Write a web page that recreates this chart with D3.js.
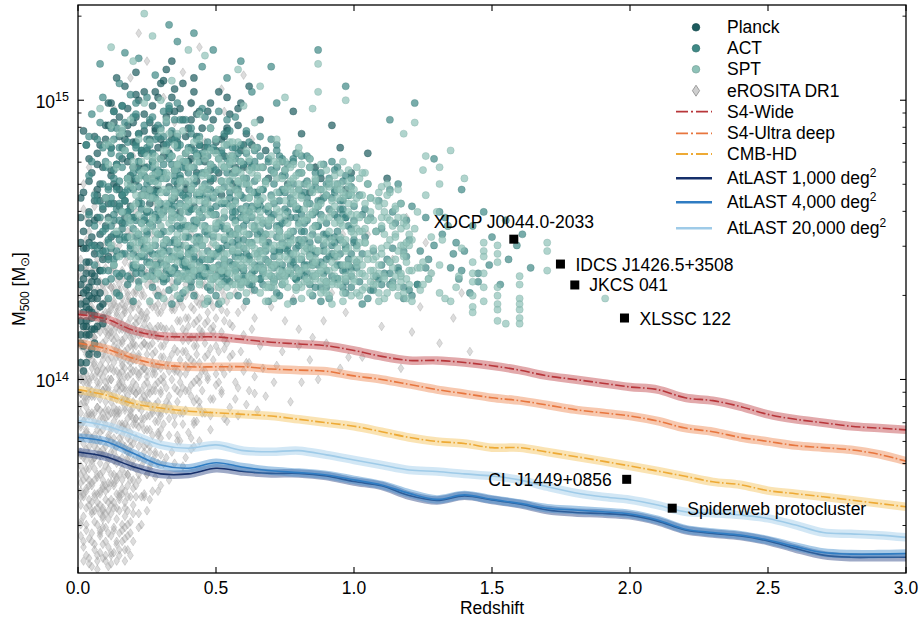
<!DOCTYPE html>
<html><head><meta charset="utf-8">
<script src="https://cdn.jsdelivr.net/npm/d3@7"></script>
<style>
html,body{margin:0;padding:0;background:#fff;}
svg{display:block;font-family:"Liberation Sans",Arial,Helvetica,sans-serif;}
</style></head><body>
<svg id="chart" width="920" height="624"></svg>
<script>
// ---------------- DATA ----------------
// Scatter catalogues: interleaved pairs [100*z, 100*(log10(M500/Msun) - 13)]
const erositaPts = [
3,37,8,52,1,66,6,41,9,88,2,73,5,104,7,59,4,121,10,47,
6,95,1,49,9,133,3,81,7,35,4,62,10,114,2,99,8,70,5,56,
2,127,7,84,4,43,9,107,1,91,6,118,3,54,10,76,5,139,8,38,
9,61,4,97,7,123,2,58,10,89,5,33,1,112,8,102,3,68,6,146,
5,79,10,131,3,92,8,45,1,137,6,64,9,50,2,85,7,110,4,153,
7,99,2,40,10,57,4,116,6,72,1,83,8,126,3,109,9,36,5,94,
4,68,9,119,6,53,1,101,3,140,7,48,2,113,10,97,5,63,8,81,
1,58,5,125,8,93,3,46,10,69,6,105,4,87,7,132,2,161,9,75,
8,112,3,71,6,88,10,42,2,92,9,144,5,117,1,74,7,65,4,34,
10,103,6,129,2,67,7,78,4,100,8,60,1,124,5,42,9,96,3,158,
6,39,1,95,9,82,5,71,3,120,10,124,7,90,2,51,4,76,8,135,
2,80,8,73,5,148,10,86,6,115,3,99,9,109,4,55,1,44,7,118,
9,64,4,128,1,106,7,54,3,87,5,88,10,62,6,80,8,99,2,170,
5,107,7,141,3,131,9,53,2,104,8,46,4,110,1,130,6,59,10,149,
7,75,10,35,4,94,2,119,8,86,1,63,5,52,9,127,3,61,6,167,
1,84,6,101,8,55,3,115,5,133,9,101,2,64,7,103,10,111,4,176,
14,41,18,66,12,94,17,35,20,112,11,79,15,57,19,128,13,103,16,48,
19,87,12,55,16,120,11,33,14,97,20,69,13,141,17,82,15,110,18,44,
11,124,17,101,13,62,20,90,15,37,12,115,18,134,14,76,16,59,19,152,
16,84,13,46,19,108,12,133,18,71,11,96,14,119,20,52,15,88,17,164,
20,126,15,99,11,68,18,39,13,85,16,139,12,74,17,115,14,54,19,96,
12,37,18,120,14,131,16,93,20,77,11,143,17,60,13,112,19,64,15,148,
17,47,14,87,20,103,13,127,11,56,16,72,19,137,12,104,15,66,18,159,
15,121,11,107,18,94,14,65,17,133,20,42,12,83,16,106,13,71,19,117,
13,95,19,78,16,42,20,136,12,63,15,84,18,107,11,89,14,145,17,124,
18,53,12,146,15,113,17,89,14,35,19,49,11,117,20,61,16,129,13,156,
11,72,16,118,20,86,14,108,18,144,13,54,15,45,17,97,12,126,19,171,
16,64,19,106,13,79,11,134,17,76,14,126,20,119,15,134,18,83,12,52,
20,96,14,72,17,108,19,58,12,88,16,80,11,45,13,131,18,128,15,77,
13,38,18,74,12,117,15,102,20,148,17,54,14,160,16,99,19,125,11,100,
17,142,11,61,19,89,14,115,16,154,13,66,18,62,12,139,15,59,20,180,
23,48,27,71,21,95,29,60,25,118,22,83,30,104,26,57,24,139,28,91,
21,62,28,126,24,76,30,88,22,109,26,97,23,147,29,115,25,66,27,134,
26,82,22,52,29,99,24,122,28,65,21,131,25,92,30,142,23,69,27,106,
30,73,25,134,21,79,27,88,23,118,29,127,22,157,26,112,28,102,24,58,
22,96,29,81,26,128,24,104,21,146,27,60,30,119,23,93,25,53,28,163,
27,117,23,78,28,85,21,112,25,101,30,62,22,135,24,86,29,144,26,69,
24,94,30,108,22,72,26,145,29,70,21,86,27,96,25,124,23,103,28,131,
29,92,26,91,24,113,28,74,22,121,30,130,25,77,21,103,27,152,23,58,
21,68,25,109,30,96,23,132,27,80,22,90,28,116,26,76,24,166,29,105,
26,119,28,98,22,64,29,136,24,71,30,79,21,122,27,126,23,86,25,176,
25,87,23,124,27,113,30,155,22,101,26,136,28,142,24,149,29,85,21,160,
33,64,38,97,42,120,31,84,36,143,44,78,40,108,34,118,39,72,45,134,
37,88,32,105,43,93,35,70,41,152,31,126,38,114,44,101,33,139,40,81,
36,96,42,76,34,89,39,130,45,88,32,72,37,121,43,112,35,103,41,98,
38,69,31,99,44,122,36,110,33,86,40,141,42,106,35,125,39,89,32,161,
43,85,37,78,34,133,41,115,45,103,31,112,38,148,36,80,40,96,33,107,
39,105,44,145,32,92,42,131,35,84,37,102,43,128,31,138,41,79,34,100,
36,127,40,119,33,94,45,117,38,84,32,118,39,117,42,92,35,144,44,92,
37,136,41,126,34,74,43,157,31,90,36,168,39,175,33,182,40,188,35,192,
48,82,55,104,61,91,47,121,52,96,63,118,50,139,58,87,46,108,57,131,
64,101,53,114,49,93,60,126,54,85,62,144,47,100,56,119,51,157,59,110,
65,89,50,112,55,135,46,88,58,97,52,125,61,106,48,148,57,93,63,132,
53,86,60,103,49,117,54,128,64,122,47,163,56,109,51,99,59,140,62,96,
50,172,55,180,58,168,46,185,61,176,48,190,53,196,63,186,57,152,52,146,
68,94,74,110,81,99,89,121,95,104,70,126,77,92,85,115,92,131,98,108,
67,104,73,137,80,118,87,100,93,143,71,99,78,129,84,107,90,113,97,124,
69,150,76,158,83,147,88,165,96,152,72,172,79,181,86,176,91,160,99,140,
103,108,110,119,117,104,124,126,131,113,107,135,114,143,121,117,128,138,136,122,
142,110,105,152,119,158,126,149,139,131,
13,197,19,208,25,214,31,201,38,210,44,219,52,204,60,209,22,224,41,199,
5,45,12,78,3,102,17,56,8,131,1,69,14,93,19,37,6,115,10,84,
2,59,16,127,9,41,13,106,4,88,18,72,7,143,11,50,15,98,20,64,
1,121,6,76,12,38,3,94,17,110,9,62,14,136,5,53,19,88,8,105,
11,71,2,134,16,46,7,97,13,120,4,57,18,101,10,140,15,79,1,48,
9,86,20,55,3,117,12,66,6,129,17,90,2,42,14,111,8,74,19,122,
4,108,11,40,16,83,1,95,7,66,13,47,5,137,18,58,10,99,15,131,
3,75,9,113,14,59,20,107,6,49,12,125,2,85,17,75,8,44,16,138,
13,88,5,70,19,112,1,132,10,60,4,124,15,39,7,103,18,86,11,116,
6,94,14,50,2,111,9,73,17,126,3,48,12,100,20,71,8,120,16,61,
10,128,1,79,13,63,5,115,19,97,7,37,15,89,4,99,11,87,18,135,
2,101,8,59,16,103,3,139,14,70,6,58,20,92,12,44,9,123,17,66,
5,87,13,133,1,55,10,109,18,48,7,82,15,118,4,36,11,128,19,81,
9,96,3,60,16,114,6,140,14,82,2,72,12,108,20,127,8,89,17,43,
4,80,10,52,18,117,1,104,13,74,7,121,15,53,5,101,11,63,19,104,
12,92,6,68,2,118,16,77,9,134,3,82,14,123,8,66,20,84,10,117,
7,90,17,96,4,135,13,56,1,88,18,66,11,104,5,62,15,108,9,47,
22,76,27,102,24,59,29,88,21,117,26,68,23,130,28,110,25,95,30,82,
24,120,21,58,28,73,23,96,27,140,22,108,30,100,26,87,25,66,29,124,
33,80,38,110,36,92,41,75,34,125,44,99,31,70,39,134,42,84,35,104,
40,122,32,89,37,95,43,109,45,127,48,93,53,111,57,99,50,122,62,106,
55,90,47,137,60,116,52,104,64,95,58,124,66,112,72,105,80,112,75,121,
3,150,8,157,13,148,18,153,6,162,11,158,16,145,21,151,1,143,24,157,
4,64,9,54,14,42,19,45,2,35,7,32,12,34,17,39,22,47,10,37,
5,126,15,126,20,99,25,103,7,112,12,82,17,118,22,127,2,94,13,140,
8,95,3,111,18,79,23,89,6,106,11,97,16,92,21,84,1,100,14,103,
9,67,4,73,19,69,24,74,15,71,10,92,20,113,5,78,25,112,12,57,
6,85,16,109,1,60,11,123,21,95,3,90,13,114,18,131,8,78,23,116,
7,56,17,51,2,77,22,66,9,104,14,64,19,141,4,95,24,98,10,73,
5,96,15,101,20,131,11,80,1,116,16,68,6,72,21,132,13,77,3,65,
8,117,18,92,12,119,23,105,2,128,17,104,7,125,22,140,10,119,14,89,
9,51,19,74,4,117,15,58,24,82,11,53,20,115,5,109,16,123,1,73,
14,88,23,112,35,97,46,120,19,76,31,131,42,85,27,104,52,95,17,125,
38,118,25,82,49,107,33,139,21,98,44,90,29,119,54,113,16,105,40,132,
26,127,47,101,36,78,13,117,30,95,51,128,22,134,43,115,34,109,18,92,
48,87,28,140,39,102,15,132,53,121,24,92,45,129,32,114,20,109,41,94,
37,128,12,100,50,98,26,116,35,87,23,123,44,106,31,101,55,108,19,138,
29,80,46,134,16,113,39,122,27,89,52,117,34,126,21,86,42,112,14,124,
33,91,48,111,25,99,37,137,18,118,43,100,30,124,53,102,22,102,40,114,
15,96,45,96,28,96,36,130,50,133,24,130,38,88,17,84,31,108,47,124,
20,128,41,107,13,90,32,97,26,74,49,119,35,116,44,127,22,116,39,96,
27,135,54,124,16,97,30,112,42,125,19,102,51,110,37,99,24,104,46,103,
34,129,14,110,28,118,43,130,21,120,48,128,33,103,25,138,40,104,18,111,
53,130,36,121,23,84,45,116,29,132,17,93,41,134,31,118,50,102,15,137,
38,126,26,95,44,118,20,137,35,111,47,109,22,125,52,132,32,128,13,128,
27,109,39,110,16,136,49,126,24,113,42,99,30,87,46,113,19,115,37,107,
34,135,21,107,55,120,28,104,43,121,12,133,36,103,25,122,48,118,18,130
];
const planckPts = [
2,103,5,118,1,127,4,109,7,135,3,121,6,145,2,131,8,152,4,125,
1,113,6,123,3,138,9,161,5,129,2,147,7,119,4,156,1,140,8,170,
3,106,6,164,2,124,5,174,9,143,4,133,7,181,1,158,3,128,6,187,
5,151,8,126,2,167,4,179,7,158,1,121,9,176,3,184,6,137,2,189,
5,122,8,148,3,116,7,166,4,142,
11,158,16,183,21,171,13,196,19,162,24,189,12,175,17,205,23,166,14,152,
20,192,10,186,15,168,22,200,18,178,25,160,12,199,16,156,21,185,14,208,
19,173,11,191,23,181,17,164,24,203,13,170,20,158,15,194,22,176,18,188,
10,165,25,182,16,198,12,183,21,210,
27,172,33,196,39,168,44,184,30,206,36,177,42,162,28,189,35,165,41,199,
31,180,38,193,26,163,43,174,34,186,29,201,40,178,37,160,32,211,45,190,
28,168,35,204,41,183,30,174,44,166,33,181,39,187,26,192,42,208,36,170,
31,161,37,197,43,195,29,183,34,214,
48,171,54,189,60,176,66,193,51,203,57,168,63,184,47,196,69,172,53,180,
59,199,65,167,50,185,56,174,62,205,68,182,46,178,55,195,61,188,67,176,
52,166,58,191,
74,178,81,188,88,172,95,183,78,196,86,176,92,191,99,174,105,181,112,172,
84,167,97,168,76,170,
3,132,8,164,15,187,27,178,41,193,6,118,19,171,34,201,52,186,11,144,
2,153,24,195,46,174,9,127,31,184,58,197,4,171,17,158,38,206,13,192,
7,109,29,168,50,182,21,202,5,138,43,187,1,165,35,175,56,170,16,179,
10,155,26,186,48,199,3,147,22,163,39,181,8,184,54,190,14,169,32,194,
6,131,45,180,18,197,1,116,28,190,60,184,12,173,37,172,4,160,24,176,
9,146,49,193,20,185,2,136,33,169,55,179,15,162,42,203,7,177,27,198,
5,124,30,179,47,168,11,199,23,182,3,119,40,190,17,186,57,176,8,139,
36,185,13,163,51,174,4,149,25,172,44,196,10,191,1,134,19,180,31,207,
6,157,53,187,14,177,39,170,2,112,21,194,9,122,46,183,28,203,16,166,
3,142,34,188,12,151,59,182,7,168,26,168,5,111,41,179,18,191,48,175,
8,131,22,188,35,196,1,149,43,171,11,163,30,186,54,201,4,130,20,176,
2,119,6,148,3,126,5,135,9,120,7,129,4,116,1,106,8,139,6,113
];
const actPts = [
6,141,11,168,15,152,9,183,18,137,4,159,13,196,20,174,7,147,16,189,
10,135,19,161,5,178,14,144,8,192,17,156,12,181,20,140,6,166,15,171,
11,150,18,185,9,139,4,173,13,157,16,198,7,186,19,148,12,163,10,176,
14,190,5,148,17,167,8,158,20,194,15,137,11,184,6,155,18,172,13,143,
9,170,16,145,12,190,19,180,7,164,14,177,4,187,17,150,10,154,20,158,
8,145,15,183,11,139,18,160,13,175,
23,138,29,161,35,149,26,184,32,172,38,143,21,195,27,155,34,180,40,166,
24,147,30,190,37,158,22,169,28,141,33,198,39,176,25,160,31,136,36,187,
22,152,27,178,34,164,40,139,26,171,31,148,37,193,23,182,29,145,35,168,
38,155,24,191,30,159,21,140,33,185,28,174,36,144,25,201,39,162,32,150,
27,137,34,189,22,178,30,142,37,171,25,153,40,183,23,163,31,196,36,135,
29,173,21,157,35,140,26,193,32,162,38,178,24,168,33,146,28,186,39,151,
31,177,25,142,37,163,22,188,34,154,27,165,40,145,30,174,23,150,36,199,
33,138,28,159,21,172,35,186,26,146,39,193,24,181,32,141,38,166,29,152,
36,175,30,137,25,176,34,161,22,144,31,187,27,194,40,155,23,173,37,148,
28,167,33,179,26,156,39,140,24,157,35,173,21,184,32,192,38,137,29,187,
44,151,57,139,42,170,50,162,59,184,47,143,53,176,41,135,56,158,48,190,
52,147,45,181,60,165,43,157,55,142,49,172,58,150,46,194,54,163,41,147,
50,137,57,174,44,166,53,154,47,185,60,140,42,143,55,189,48,160,59,134,
45,168,51,179,56,146,43,181,58,170,46,153,52,138,41,161,54,193,49,144,
60,155,47,133,55,167,44,142,50,186,57,160,42,176,53,141,48,168,59,178,
51,156,45,137,58,145,46,174,56,180,43,149,54,136,49,159,41,188,52,171,
47,165,59,161,44,187,55,152,50,145,42,155,57,183,48,139,53,163,60,147,
46,140,52,182,58,136,43,166,49,176,56,141,45,158,51,146,54,174,41,139,
57,152,47,180,53,135,60,172,44,160,
62,149,75,137,68,171,79,158,64,182,71,144,77,165,61,135,73,155,66,187,
70,141,78,178,63,162,74,149,67,134,80,168,65,152,72,184,76,146,61,170,
69,160,64,139,77,151,71,174,62,143,79,136,66,164,73,180,68,146,75,157,
80,150,63,176,70,133,65,166,78,143,72,155,61,189,76,169,67,140,74,173,
64,154,71,163,79,181,66,136,73,146,62,160,69,179,77,138,65,145,80,161,
68,152,75,175,63,134,72,141,78,163,70,186,61,157,67,168,74,139,76,151,
71,135,64,171,79,147,66,153,73,167,69,142,62,178,77,158,65,162,80,137,
84,147,97,135,90,166,82,156,99,172,87,141,93,159,81,180,95,150,88,133,
92,145,85,168,100,157,83,138,96,164,89,152,81,143,94,176,86,160,98,141,
91,170,84,134,97,148,88,174,82,150,99,137,86,145,93,168,90,139,95,161,
100,149,83,163,87,155,96,133,92,178,85,142,98,166,89,146,81,159,94,136,
88,164,91,151,84,179,97,158,83,147,90,133,86,171,99,154,93,144,82,167,
104,151,116,139,109,164,102,135,119,157,107,146,113,168,101,142,118,133,110,154,
105,170,114,147,103,159,117,163,108,137,120,150,106,132,112,143,115,156,102,166,
111,138,119,144,104,161,108,153,116,170,101,148,113,134,106,158,118,146,110,141,
103,145,114,160,
123,134,129,148,135,140,126,158,132,152,138,136,121,162,127,143,134,155,140,146,
145,138,150,151,156,143,147,160,153,134,159,148,164,140,142,131,126,140,161,152,
124,146,131,160,137,149,143,155,149,141,155,157,133,158,139,139,136,145,145,135,
15,206,22,215,28,209,36,221,45,212,54,208,63,203,72,199,33,227,49,218,
42,224,59,214,87,218,97,205,122,199,113,193,8,213,17,217,70,212,129,179,139,168,
17,151,63,176,38,142,84,163,25,170,51,139,92,148,12,183,70,158,44,166,
31,153,77,141,58,181,9,162,96,171,40,147,66,136,22,178,87,155,53,169,
35,159,81,174,14,138,60,150,47,183,99,140,28,165,73,146,19,157,56,162,
89,177,42,137,67,168,11,149,33,181,78,153,24,144,95,164,50,175,64,141,
37,173,85,137,16,166,59,158,45,148,72,182,27,139,93,151,52,155,10,178,
75,167,30,145,62,160,20,154,83,180,48,143,97,158,36,184,69,149,13,141,
55,171,90,143,41,161,79,161,23,149,65,183,32,167,86,169,46,137,18,172,
71,140,57,164,94,136,26,160,80,148,39,178,61,145,15,157,88,159,49,151,
34,138,74,156,21,183,68,171,43,156,98,166,54,148,29,175,82,141,12,155,
63,138,46,170,91,172,35,150,76,177,58,154,17,145,85,152,40,160,66,162,
24,173,52,181,79,136,31,146,95,145,44,139,70,166,14,161,57,144,87,164,
37,167,62,185,20,141,83,157,48,161,100,150,27,181,73,137,55,177,9,153,
42,144,89,138,33,163,67,151,16,176,78,170,50,159,25,152,93,175,60,136,
38,176,71,159,19,147,84,145,45,174,96,161,29,141,64,167,53,143,11,169,
81,149,36,155,58,140,22,164,74,179,47,152,90,156,32,184,68,143,15,150,
56,183,86,146,41,168,28,148,77,163,61,172,18,160,94,153,49,165,34,144,
72,151,43,180,99,145,26,156,65,140,80,174,13,172,51,147,88,168,39,137,
59,166,23,144,82,170,46,163,97,139,30,152,69,178,17,164,54,138,75,147,
35,162,91,161,57,157,21,151,63,149,44,184,85,141,27,166,70,137,10,146,
48,177,78,142,40,151,93,167,60,159,14,168,32,139,66,180,52,163,87,150,
24,158,76,160,45,143,98,155,31,174,62,144,19,136,83,165,55,153,36,183,
71,170,12,147,58,175,89,148,42,157,67,138,25,183,80,156,50,167,95,141,
33,149,74,168,16,154,61,162,47,140,86,174,28,171,53,158,92,137,39,165,
64,155,20,168,79,140,43,173,100,162,37,144,68,161,15,180,56,149,84,176,
29,157,73,153,49,136,94,170,22,175,59,144,41,146,81,166,13,159,65,176,
35,171,90,152,54,184,26,142,77,145,46,155,18,151,62,168,97,147,30,163,
69,155,44,150,85,159,38,141,57,179,11,143,75,173,51,141,92,165,23,161,
66,146,34,158,82,137,48,172,14,146,96,159,60,177,27,145,73,164,40,174,
87,162,53,150,19,169,63,158,32,136,78,179,45,161,99,169,25,166,58,148,
70,175,36,147,91,144,16,160,55,165,81,153,42,182,67,156,21,138,88,142,
30,172,74,141,47,146,12,165,61,181,94,158,39,155,83,171,52,137,28,158,
65,161,17,182,56,160,86,155,43,151,76,148,24,147,97,173,50,154,34,177,
80,161,60,139,15,163,71,146,45,166,93,149,31,160,64,178,20,145,54,179,
89,165,37,154,68,148,27,176,82,153,49,182,13,152,58,168,98,143,41,140,
75,161,23,156,62,152,44,178,90,170,35,140,72,176,18,168,57,139,84,149,
14,131,37,129,62,134,88,128,109,136,23,140,51,127,76,138,97,131,118,129,
31,135,58,130,83,141,11,129,44,137,69,128,101,140,27,133,93,136,120,132,
48,132,16,138,73,130,39,141,105,129,60,137,86,133,20,128,113,138,55,135,
34,127,79,136,123,134,42,130,66,141,91,129,18,134,107,132,53,139,74,134,
29,130,96,139,64,132,12,136,85,130,47,128,116,140,36,138,71,136,103,127,
25,137,57,141,90,135,41,133,78,128,110,134,67,139,15,130,99,133,50,130,
81,139,33,132,121,130,61,128,94,141,22,135,46,140,72,131,114,135,38,131,
5,195,13,186,21,199,29,191,37,184,45,197,53,188,9,201,17,192,25,186,
33,197,41,190,49,183,57,194,3,184,19,202,27,181,35,193,43,186,51,196
];
const sptPts = [
12,148,18,172,23,156,15,188,21,143,10,165,25,180,14,153,19,193,11,177,
24,146,16,160,22,186,13,141,20,169,17,182,25,150,12,191,18,158,23,174,
15,144,21,163,10,184,19,151,14,176,24,166,11,157,22,149,16,190,20,178,
28,141,35,166,42,150,31,182,38,157,27,173,44,140,33,188,40,163,29,152,
36,137,43,178,30,160,37,146,26,185,41,169,34,143,45,155,32,174,39,136,
27,158,35,184,42,164,29,139,38,171,31,149,44,186,33,156,40,145,26,165,
36,177,43,147,30,189,37,162,28,136,41,154,34,180,45,168,32,143,39,181,
29,170,36,150,42,139,27,148,33,168,40,176,31,137,38,189,44,159,35,144,
26,155,43,167,30,144,37,179,34,159,41,141,28,180,45,148,32,161,39,153,
42,185,29,163,36,158,31,172,40,138,
48,138,55,162,61,147,51,179,58,152,47,169,64,136,53,184,60,158,49,145,
56,134,63,174,50,155,57,141,46,181,62,165,54,139,65,150,52,171,59,133,
47,154,55,180,61,160,49,136,58,167,51,144,64,183,53,151,60,140,46,161,
56,173,63,142,50,186,57,156,48,134,62,149,54,176,65,163,52,139,59,178,
49,166,56,146,61,135,47,143,53,164,60,172,51,133,58,185,64,154,55,140,
46,150,63,161,50,140,57,175,54,154,62,137,48,177,65,144,52,157,59,148,
61,182,49,159,56,152,51,168,60,135,47,163,53,145,58,171,64,147,55,185,
50,148,62,170,57,137,46,174,63,155,
68,137,75,159,81,144,71,174,78,150,67,165,84,135,73,178,80,155,69,142,
76,133,83,170,70,152,77,139,66,176,82,161,74,136,85,147,72,167,79,132,
67,149,75,175,81,157,69,134,78,163,71,141,84,179,73,148,80,138,66,158,
76,169,83,140,70,180,77,153,68,133,82,146,74,172,85,160,72,137,79,173,
69,162,76,143,81,133,67,140,73,160,80,168,71,133,78,177,84,151,75,138,
66,146,83,158,70,137,77,171,74,151,82,135,68,171,85,141,72,154,79,145,
81,177,69,156,76,149,71,164,80,134,67,157,73,142,78,167,84,144,75,178,
88,135,95,156,101,141,91,169,98,147,87,162,104,133,93,173,100,152,89,140,
96,131,103,166,90,149,97,137,86,171,102,158,94,134,105,145,92,164,99,130,
87,146,95,170,101,154,89,132,98,160,91,139,104,174,93,145,100,136,86,155,
96,165,103,138,90,175,97,150,88,131,102,143,94,168,105,157,92,135,99,167,
89,158,96,141,101,131,87,138,93,156,100,163,91,130,98,171,104,149,95,136,
86,143,103,153,90,134,97,166,94,147,
108,134,115,152,121,139,111,163,118,145,107,157,124,132,113,167,120,148,109,138,
116,130,123,160,110,147,117,135,106,165,122,154,114,133,125,142,112,158,119,129,
107,143,115,162,121,150,109,131,118,156,111,137,126,166,113,142,120,134,128,151,
116,168,123,140,110,155,117,148,127,136,
143,142,143,138,143,135,143,130,143,126,143,124,
147,149,147,146,147,144,147,138,147,133,147,128,
152,148,152,145,152,142,152,133,152,130,152,127,152,125,152,121,
155,120,160,137,160,134,160,129,160,125,160,122,160,120,160,127,
170,149,170,146,170,139,191,129,
131,141,134,155,137,133,139,147,135,128,132,150,138,137,130,160,
20,214,27,223,34,207,46,216,58,211,66,205,75,201,85,197,24,231,40,218,
87,213,97,200,87,203,122,192,118,188,135,182,131,176,140,172,126,180,12,219,131,170,125,175,
45,140,88,163,27,171,104,149,66,155,39,178,117,137,58,146,81,174,22,159,
96,167,51,135,73,151,34,165,110,158,62,179,19,144,86,142,43,157,101,176,
69,138,28,150,92,160,55,169,115,143,37,136,78,164,48,182,107,134,24,175,
83,147,60,161,31,141,99,153,72,177,41,168,113,150,53,143,89,136,20,162,
65,173,106,165,36,152,76,139,47,175,94,144,26,147,119,155,57,163,80,181,
42,146,102,138,70,157,30,179,87,151,52,134,112,170,63,167,21,153,97,141,
38,160,75,137,109,162,49,149,84,169,29,138,67,145,118,148,56,178,91,158,
33,173,103,132,61,152,79,166,44,135,95,174,23,166,71,141,114,140,50,156,
85,154,40,143,100,168,64,136,27,157,108,144,54,171,77,149,35,146,93,137,
59,174,116,133,46,164,82,140,32,182,98,163,68,170,25,148,105,157,74,134,
39,162,90,146,52,177,111,152,61,142,18,170,87,168,44,150,103,141,66,160,
28,144,96,178,73,144,37,169,120,139,57,139,82,157,48,145,101,165,30,155,
78,172,63,148,20,149,92,134,53,160,115,161,35,175,69,162,86,136,42,172,
107,147,58,154,26,137,80,143,47,167,99,159,71,135,32,150,112,166,64,176,
23,178,89,150,55,138,117,154,40,155,75,168,104,137,50,181,84,159,29,164,
67,139,95,151,36,142,110,145,60,170,79,133,43,161,102,172,21,141,73,158,
56,147,88,177,31,168,114,134,65,164,45,173,97,146,76,156,38,138,106,160,
24,154,83,163,52,139,119,149,70,147,34,157,91,171,59,135,100,156,46,179,
85,138,62,165,27,179,108,153,49,152,77,176,41,137,113,142,68,152,19,156,
94,165,54,145,33,143,87,146,105,170,72,172,25,161,58,171,116,146,39,148,
81,165,48,136,99,138,63,159,22,172,74,148,109,167,44,167,90,135,56,180,
30,146,101,147,67,176,36,177,84,144,118,158,51,164,78,137,28,153,96,155,
61,158,42,141,111,136,70,165,93,162,26,168,55,150,86,172,37,145,104,163,
75,144,47,159,115,151,32,163,66,143,98,169,21,147,80,170,53,176,107,139,
40,171,89,141,62,137,117,163,45,145,72,161,29,174,95,157,58,166,83,135,
34,139,102,153,69,157,23,145,110,169,50,137,79,162,43,180,92,150,64,145,
119,142,57,168,27,165,85,167,38,151,100,143,71,178,48,154,113,157,31,158,
76,152,60,143,106,135,41,176,88,157,20,176,66,168,97,136,54,155,112,148,
35,167,82,148,46,138,103,174,73,153,24,150,90,166,59,141,118,144,44,164,
77,168,33,153,96,149,65,172,108,164,51,151,87,138,28,177,70,140,114,155,
39,142,93,170,57,175,22,152,81,150,105,143,47,173,63,140,99,166,30,167,
84,176,49,140,116,158,68,147,36,149,101,159,74,138,25,172,91,153,55,178,
109,141,42,154,78,145,62,175,31,145,95,168,52,168,120,152,67,150,40,164,
86,162,26,141,71,148,104,154,58,143,89,168,45,169,111,160,34,160,80,139,
60,153,98,175,37,171,115,137,75,164,21,166,53,141,92,142,65,157,102,149,
26,128,54,133,81,129,107,137,131,131,40,136,68,128,95,134,121,128,33,140,
61,131,88,139,114,133,47,129,75,135,102,130,128,138,22,133,58,137,84,131,
111,129,36,130,65,140,92,127,119,136,44,134,71,129,98,141,125,134,29,138,
52,128,79,133,106,139,133,129,39,132,63,136,90,131,117,138,49,140,76,127,
100,135,124,140,31,129,57,134,86,137,112,131,42,139,69,133,96,128,127,136,
24,136,55,130,83,136,109,128,35,133,66,131,93,140,118,131,46,127,73,139,
8,197,16,188,24,199,32,193,40,182,48,190,56,185,64,192,72,186,80,183,
30,200,44,195,60,198,12,185,36,188
];

// Mass-limit forecast curves (M500 in 1e14 Msun) sampled on curveZ
const curveZ = [0,0.1,0.2,0.3,0.4,0.5,0.6,0.7,0.8,0.9,1.0,1.1,1.2,1.3,1.4,1.5,1.6,1.7,1.8,1.9,2.0,2.1,2.2,2.3,2.4,2.5,2.6,2.7,2.8,2.9,3.0];
const s4Wide   = [1.71,1.65,1.50,1.43,1.42,1.42,1.39,1.36,1.34,1.32,1.27,1.21,1.17,1.17,1.15,1.12,1.08,1.03,1.00,0.97,0.94,0.92,0.86,0.84,0.80,0.75,0.72,0.70,0.68,0.67,0.66];
const s4Ultra  = [1.35,1.29,1.19,1.13,1.11,1.11,1.11,1.09,1.08,1.07,1.03,1.00,0.96,0.92,0.89,0.86,0.84,0.81,0.78,0.76,0.74,0.71,0.67,0.65,0.62,0.60,0.58,0.57,0.56,0.54,0.51];
const cmbHD    = [0.92,0.88,0.82,0.79,0.77,0.76,0.75,0.74,0.72,0.70,0.68,0.65,0.62,0.60,0.59,0.57,0.57,0.55,0.53,0.51,0.49,0.47,0.45,0.43,0.42,0.40,0.39,0.38,0.37,0.36,0.35];
const atlast1k = [0.550,0.529,0.487,0.459,0.459,0.481,0.468,0.461,0.461,0.451,0.431,0.416,0.384,0.369,0.383,0.370,0.358,0.341,0.334,0.331,0.326,0.311,0.289,0.281,0.275,0.264,0.248,0.235,0.231,0.231,0.231];
const atlast4k = [0.620,0.600,0.544,0.494,0.481,0.503,0.485,0.471,0.464,0.455,0.437,0.419,0.391,0.372,0.386,0.372,0.360,0.346,0.341,0.336,0.330,0.314,0.291,0.283,0.277,0.266,0.252,0.240,0.237,0.237,0.238];
const atlast20k= [0.712,0.683,0.633,0.583,0.567,0.583,0.556,0.551,0.556,0.537,0.515,0.494,0.474,0.468,0.459,0.451,0.437,0.413,0.393,0.380,0.371,0.355,0.336,0.332,0.327,0.318,0.301,0.283,0.280,0.277,0.272];

// Individual high-z clusters
const clusterNames = ["XDCP J0044.0-2033","IDCS J1426.5+3508","JKCS 041","XLSSC 122","CL J1449+0856","Spiderweb protocluster"];
const clusterZ     = [1.579,1.748,1.80,1.98,1.988,2.153];
const clusterM     = [3.18,2.59,2.18,1.66,0.439,0.346]; // 1e14 Msun

const xTickValues = [0,0.5,1.0,1.5,2.0,2.5,3.0];
const xTickLabels = ["0.0","0.5","1.0","1.5","2.0","2.5","3.0"];
const yMajorTicks = [1e14,1e15];
const yMajorExp   = ["14","15"];
const yMinorTicks = [3e13,4e13,5e13,6e13,7e13,8e13,9e13,2e14,3e14,4e14,5e14,6e14,7e14,8e14,9e14,2e15];

// ---------------- CHART ----------------
const svg = d3.select("#chart");
const L=78,R=906,T=5,B=573;
const FS=17.5;
const x = d3.scaleLinear().domain([0,3]).range([L,R]);
const y = d3.scaleLog().domain([Math.pow(10,13.307),Math.pow(10,15.341)]).range([B,T]);

svg.append("defs").append("clipPath").attr("id","clip")
  .append("rect").attr("x",L).attr("y",T).attr("width",R-L).attr("height",B-T);

function toPts(arr){const o=[];for(let i=0;i<arr.length;i+=2)o.push({z:arr[i]/100,m:Math.pow(10,13+arr[i+1]/100)});return o;}

const plot = svg.append("g").attr("clip-path","url(#clip)");

// eROSITA diamonds
const diamond = "M0,-4.4L2.9,0L0,4.4L-2.9,0Z";
plot.append("g").selectAll("path").data(toPts(erositaPts)).join("path")
  .attr("d",diamond)
  .attr("transform",d=>`translate(${x(d.z)},${y(d.m)})`)
  .attr("fill","#ababab").attr("fill-opacity",0.42)
  .attr("stroke","#888").attr("stroke-opacity",0.45).attr("stroke-width",0.6);

const teal = [
  {pts:planckPts,fill:"#1d5b5e"},
  {pts:actPts,fill:"#3f8986"},
  {pts:sptPts,fill:"#8ec2b8"}
];
teal.forEach(s=>{
  plot.append("g").selectAll("circle").data(toPts(s.pts)).join("circle")
    .attr("cx",d=>x(d.z)).attr("cy",d=>y(d.m)).attr("r",3.6)
    .attr("fill",s.fill).attr("fill-opacity",0.7)
    .attr("stroke",d3.color(s.fill).darker(0.4)).attr("stroke-opacity",0.55).attr("stroke-width",0.6);
});

// curves
const curves = [
  {vals:s4Wide,line:"#b8363a",band:"#c65458",bop:0.5,dash:"9.6,2.4,1.6,2.4"},
  {vals:s4Ultra,line:"#e8763e",band:"#f0925f",bop:0.5,dash:"9.6,2.4,1.6,2.4"},
  {vals:cmbHD,line:"#eeaa35",band:"#f6c868",bop:0.5,dash:"9.6,2.4,1.6,2.4"},
  {vals:atlast1k,line:"#152f6a",band:"#3e5690",bop:0.5,dash:null},
  {vals:atlast4k,line:"#2f7cc2",band:"#4a90cc",bop:0.48,dash:null},
  {vals:atlast20k,line:"#9fcbe8",band:"#b4d7ee",bop:0.6,dash:null}
];
const lineGen = d3.line().x((d,i)=>x(curveZ[i])).y(d=>y(d*1e14)).curve(d3.curveCatmullRom.alpha(0.5));
curves.forEach(c=>{
  plot.append("path").attr("d",lineGen(c.vals)).attr("fill","none")
    .attr("stroke",c.band).attr("stroke-opacity",c.bop).attr("stroke-width",8.5);
  plot.append("path").attr("d",lineGen(c.vals)).attr("fill","none")
    .attr("stroke",c.line).attr("stroke-width",1.6)
    .attr("stroke-dasharray",c.dash);
});

// cluster annotations
const annot = [
  {dx:0,dy:-11,anchor:"middle"},
  {dx:15,dy:6.5,anchor:"start"},
  {dx:14.5,dy:6.5,anchor:"start"},
  {dx:15,dy:6.5,anchor:"start"},
  {dx:-15,dy:6.5,anchor:"end"},
  {dx:15,dy:6.5,anchor:"start"}
];
clusterNames.forEach((n,i)=>{
  const cx=x(clusterZ[i]), cy=y(clusterM[i]*1e14);
  svg.append("rect").attr("x",cx-4.5).attr("y",cy-4.5).attr("width",9).attr("height",9).attr("fill","#000");
  svg.append("text").attr("x",cx+annot[i].dx).attr("y",cy+annot[i].dy)
    .attr("text-anchor",annot[i].anchor).attr("font-size",FS).attr("fill","#000").text(n);
});

// frame
svg.append("rect").attr("x",L).attr("y",T).attr("width",R-L).attr("height",B-T)
  .attr("fill","none").attr("stroke","#000").attr("stroke-width",1.3);

// ticks
const tk = svg.append("g").attr("stroke","#000").attr("stroke-width",1.1);
xTickValues.forEach(v=>{
  tk.append("line").attr("x1",x(v)).attr("x2",x(v)).attr("y1",B).attr("y2",B-6);
  tk.append("line").attr("x1",x(v)).attr("x2",x(v)).attr("y1",T).attr("y2",T+6);
});
yMajorTicks.forEach(v=>{
  tk.append("line").attr("x1",L).attr("x2",L+6).attr("y1",y(v)).attr("y2",y(v));
  tk.append("line").attr("x1",R).attr("x2",R-6).attr("y1",y(v)).attr("y2",y(v));
});
yMinorTicks.forEach(v=>{
  tk.append("line").attr("x1",L).attr("x2",L+3.5).attr("y1",y(v)).attr("y2",y(v)).attr("stroke-width",0.9);
  tk.append("line").attr("x1",R).attr("x2",R-3.5).attr("y1",y(v)).attr("y2",y(v)).attr("stroke-width",0.9);
});

xTickValues.forEach((v,i)=>{
  svg.append("text").attr("x",x(v)).attr("y",594).attr("text-anchor","middle")
    .attr("font-size",FS).text(xTickLabels[i]);
});
yMajorTicks.forEach((v,i)=>{
  const t=svg.append("text").attr("x",69).attr("y",y(v)+8).attr("text-anchor","end").attr("font-size",FS);
  t.append("tspan").text("10");
  t.append("tspan").attr("dy",-6.8).attr("font-size",12.5).text(yMajorExp[i]);
});

svg.append("text").attr("x",(L+R)/2).attr("y",614).attr("text-anchor","middle").attr("font-size",FS).text("Redshift");
const yl = svg.append("text").attr("transform","translate(25,289) rotate(-90)").attr("text-anchor","middle").attr("font-size",FS);
yl.append("tspan").text("M");
yl.append("tspan").attr("dy",4).attr("font-size",12).text("500");
yl.append("tspan").attr("dy",-4).text(" [M");
yl.append("tspan").attr("dy",4).attr("font-size",12).text("\u2299");
yl.append("tspan").attr("dy",-4).text("]");

// legend
const lg = svg.append("g");
const legX=696, txtX=727;
const legRows = [27.3,48.3,69.3,90.7,111.7,133.3,154,178.3,202.3,228.3];
const legItems = [
  {label:"Planck",type:"circle",color:"#1d5b5e"},
  {label:"ACT",type:"circle",color:"#3f8986"},
  {label:"SPT",type:"circle",color:"#8ec2b8"},
  {label:"eROSITA DR1",type:"diamond"},
  {label:"S4-Wide",type:"line",c:curves[0]},
  {label:"S4-Ultra deep",type:"line",c:curves[1]},
  {label:"CMB-HD",type:"line",c:curves[2]},
  {label:"AtLAST 1,000 deg",type:"line",c:curves[3],sup:true},
  {label:"AtLAST 4,000 deg",type:"line",c:curves[4],sup:true},
  {label:"AtLAST 20,000 deg",type:"line",c:curves[5],sup:true}
];
legItems.forEach((it,i)=>{
  const cy=legRows[i];
  if(it.type==="circle"){
    lg.append("circle").attr("cx",legX).attr("cy",cy).attr("r",3.8).attr("fill",it.color)
      .attr("stroke",d3.color(it.color).darker(0.5)).attr("stroke-width",0.7);
  } else if(it.type==="diamond"){
    lg.append("path").attr("d","M0,-5.5L3.6,0L0,5.5L-3.6,0Z").attr("transform",`translate(${legX},${cy})`)
      .attr("fill","#cfcfcf").attr("stroke","#8a8a8a").attr("stroke-width",0.8);
  } else {
    lg.append("line").attr("x1",676).attr("x2",712).attr("y1",cy).attr("y2",cy)
      .attr("stroke",it.c.line).attr("stroke-width",it.c.dash?1.8:2.4)
      .attr("stroke-dasharray",it.c.dash?"12,3,2,3":null);
  }
  const t=lg.append("text").attr("x",txtX).attr("y",cy+6).attr("font-size",FS);
  t.append("tspan").text(it.label);
  if(it.sup) t.append("tspan").attr("dy",-7).attr("font-size",12).text("2");
});
</script></body></html>
